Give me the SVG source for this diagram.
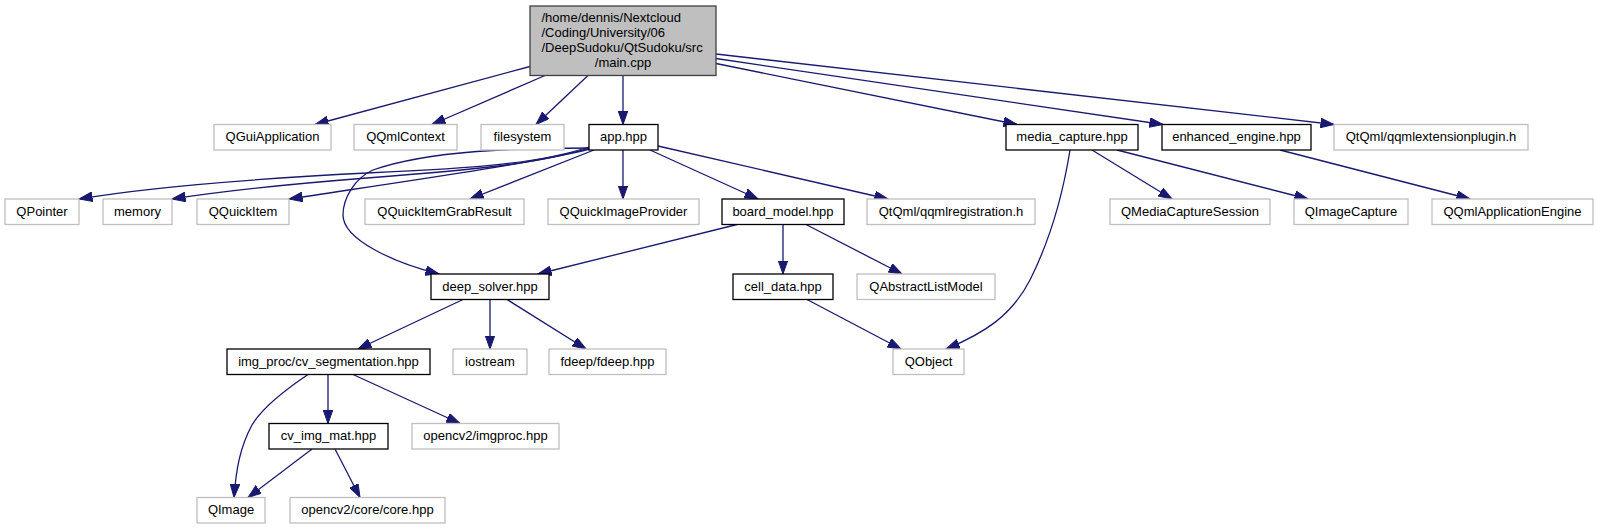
<svg xmlns="http://www.w3.org/2000/svg" width="1598" height="529" viewBox="0 0 1598 529">
<defs>
<marker id="ah" markerUnits="userSpaceOnUse" markerWidth="14" markerHeight="10" refX="13.5" refY="4.8" orient="auto">
<path d="M0,0 L13.5,4.8 L0,9.6 z" fill="#191970" stroke="#191970" stroke-width="1"/>
</marker>
<style>
.n rect{fill:#fff;stroke:#bfbfbf;stroke-width:1.3}
.d rect{fill:#fff;stroke:#000;stroke-width:1.3}
.m rect{fill:#bfbfbf;stroke:#404040;stroke-width:1.3}
text{font-family:"Liberation Sans",Arial,sans-serif;font-size:13px;fill:#000}
.c{text-anchor:middle}
#edges path{fill:none;stroke:#191970;stroke-width:1.3;marker-end:url(#ah)}
</style>
</defs>
<rect width="1598" height="529" fill="#fff"/>
<g id="edges">
<path d="M530,66.5 L315,124.5"/>
<path d="M545,75.5 L432,124.5"/>
<path d="M588,75.5 L536,124.5"/>
<path d="M623,75.5 L623,124.5"/>
<path d="M716,63.5 L1017,124.5"/>
<path d="M716,58.5 L1163,124.5"/>
<path d="M716,54 L1334,124.5"/>
<path d="M589,147 C540,163 480,168 367,173 C250,179 150,187 79,199"/>
<path d="M589,148 C540,164 470,170 367,178 C290,184 230,190 172,199"/>
<path d="M590,149 C530,164 380,185 289,199"/>
<path d="M589,148 C520,148 430,150 373,170 C355,178 343,198 343,215 C343,240 395,263 439,274"/>
<path d="M594,150 L470,199"/>
<path d="M623,150 L623,199"/>
<path d="M650,150 L758,199"/>
<path d="M658,146 L888,199"/>
<path d="M737,224.5 L538,274"/>
<path d="M783,224.5 L783,274"/>
<path d="M806,224.5 L902,274"/>
<path d="M1070,150 C1062,200 1050,240 1030,280 C1012,315 985,333 946,349"/>
<path d="M1092,150 L1172,199"/>
<path d="M1117,150 L1308,199"/>
<path d="M1280,150 L1470,199"/>
<path d="M463,299.5 L358,349"/>
<path d="M490,299.5 L490,349"/>
<path d="M507,299.5 L586,349"/>
<path d="M807,299.5 L901,349"/>
<path d="M308,374.5 C285,390 262,408 252,425 C240,447 236,470 234,497.5"/>
<path d="M328,374.5 L328,423.5"/>
<path d="M353,374.5 L460,423.5"/>
<path d="M312,449 L248,497.5"/>
<path d="M335,449 L360,497.5"/>
</g>
<g id="main" class="m"><rect x="530" y="6" width="186" height="69.5"/>
<text x="541.5" y="21.5">/home/dennis/Nextcloud</text>
<text x="541.5" y="36.5">/Coding/University/06</text>
<text x="541.5" y="51.5">/DeepSudoku/QtSudoku/src</text>
<text class="c" x="623" y="66.5">/main.cpp</text></g>
<g id="qguiapplication" class="n"><rect x="214" y="124.5" width="117" height="25.5"/><text class="c" x="272.5" y="141">QGuiApplication</text></g>
<g id="qqmlcontext" class="n"><rect x="354" y="124.5" width="103" height="25.5"/><text class="c" x="405.5" y="141">QQmlContext</text></g>
<g id="filesystem" class="n"><rect x="481" y="124.5" width="83" height="25.5"/><text class="c" x="522.5" y="141">filesystem</text></g>
<g id="app" class="d"><rect x="589" y="124.5" width="69" height="25.5"/><text class="c" x="623.5" y="141">app.hpp</text></g>
<g id="media_capture" class="d"><rect x="1006" y="124.5" width="132" height="25.5"/><text class="c" x="1072" y="141">media_capture.hpp</text></g>
<g id="enhanced_engine" class="d"><rect x="1162" y="124.5" width="149" height="25.5"/><text class="c" x="1236.5" y="141">enhanced_engine.hpp</text></g>
<g id="qqmlextensionplugin" class="n"><rect x="1334" y="124.5" width="194" height="25.5"/><text class="c" x="1431" y="141">QtQml/qqmlextensionplugin.h</text></g>
<g id="qpointer" class="n"><rect x="5" y="199" width="74" height="25.5"/><text class="c" x="42" y="215.5">QPointer</text></g>
<g id="memory" class="n"><rect x="103" y="199" width="69" height="25.5"/><text class="c" x="137.5" y="215.5">memory</text></g>
<g id="qquickitem" class="n"><rect x="197" y="199" width="92" height="25.5"/><text class="c" x="243" y="215.5">QQuickItem</text></g>
<g id="qquickitemgrabresult" class="n"><rect x="365" y="199" width="159" height="25.5"/><text class="c" x="444.5" y="215.5">QQuickItemGrabResult</text></g>
<g id="qquickimageprovider" class="n"><rect x="548" y="199" width="151" height="25.5"/><text class="c" x="623.5" y="215.5">QQuickImageProvider</text></g>
<g id="board_model" class="d"><rect x="722" y="199" width="122" height="25.5"/><text class="c" x="783" y="215.5">board_model.hpp</text></g>
<g id="qqmlregistration" class="n"><rect x="867" y="199" width="168" height="25.5"/><text class="c" x="951" y="215.5">QtQml/qqmlregistration.h</text></g>
<g id="qmediacapturesession" class="n"><rect x="1110" y="199" width="160" height="25.5"/><text class="c" x="1190" y="215.5">QMediaCaptureSession</text></g>
<g id="qimagecapture" class="n"><rect x="1294" y="199" width="114" height="25.5"/><text class="c" x="1351" y="215.5">QImageCapture</text></g>
<g id="qqmlapplicationengine" class="n"><rect x="1432" y="199" width="161" height="25.5"/><text class="c" x="1512.5" y="215.5">QQmlApplicationEngine</text></g>
<g id="deep_solver" class="d"><rect x="431" y="274" width="118" height="25.5"/><text class="c" x="490" y="290.5">deep_solver.hpp</text></g>
<g id="cell_data" class="d"><rect x="733" y="274" width="100" height="25.5"/><text class="c" x="783" y="290.5">cell_data.hpp</text></g>
<g id="qabstractlistmodel" class="n"><rect x="857" y="274" width="138" height="25.5"/><text class="c" x="926" y="290.5">QAbstractListModel</text></g>
<g id="cv_segmentation" class="d"><rect x="227" y="349" width="203" height="25.5"/><text class="c" x="328.5" y="365.5">img_proc/cv_segmentation.hpp</text></g>
<g id="iostream" class="n"><rect x="453" y="349" width="74" height="25.5"/><text class="c" x="490" y="365.5">iostream</text></g>
<g id="fdeep" class="n"><rect x="549" y="349" width="117" height="25.5"/><text class="c" x="607.5" y="365.5">fdeep/fdeep.hpp</text></g>
<g id="qobject" class="n"><rect x="893" y="349" width="71" height="25.5"/><text class="c" x="928.5" y="365.5">QObject</text></g>
<g id="cv_img_mat" class="d"><rect x="269" y="423.5" width="119" height="25.5"/><text class="c" x="328.5" y="440">cv_img_mat.hpp</text></g>
<g id="imgproc" class="n"><rect x="412" y="423.5" width="147" height="25.5"/><text class="c" x="485.5" y="440">opencv2/imgproc.hpp</text></g>
<g id="qimage" class="n"><rect x="197" y="497.5" width="68" height="25.5"/><text class="c" x="231" y="514">QImage</text></g>
<g id="core" class="n"><rect x="290" y="497.5" width="155" height="25.5"/><text class="c" x="367.5" y="514">opencv2/core/core.hpp</text></g>
</svg>
